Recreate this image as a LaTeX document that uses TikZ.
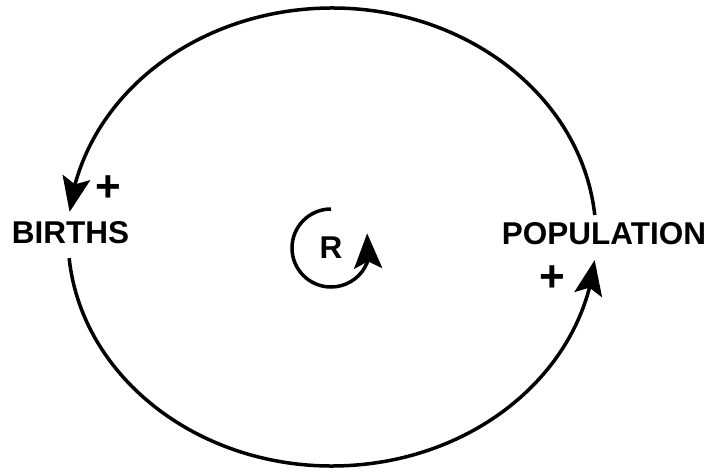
\documentclass[tikz,border=0pt]{standalone}
\usepackage{fontspec}
\setmainfont{Liberation Sans}
\usetikzlibrary{arrows.meta,bending}

\begin{document}
\begin{tikzpicture}[x=1pt,y=1pt,>={Stealth[length=35pt,width=28pt,inset=7pt]},
  lbl/.style={font=\fontsize{31.5}{38}\selectfont\bfseries,inner sep=0pt},
  sgn/.style={font=\fontsize{44}{50}\selectfont\bfseries,inner sep=0pt},
  link/.style={line width=3.5pt,->}]
\useasboundingbox (0,0) rectangle (706,472);
\coordinate (C) at (332,235);
\node[lbl] (births) at (70.5,239.5) {BIRTHS};
\node[lbl] (population) at (604,238.5) {POPULATION};
\node[sgn] (bsign) at (108,283) {+};
\node[sgn] (psign) at (552,193) {+};
\node[lbl] (R) at (331,224) {R};
% ends of the two links on the loop
\coordinate (pop-top) at ([shift={(5.5:264 and 229)}]C);
\coordinate (births-bot) at ([shift={(185.3:264 and 229)}]C);
\draw[link] (pop-top) arc[start angle=5.5, end angle=173.7, x radius=264, y radius=229];
\draw[link] (births-bot) arc[start angle=185.3, end angle=354.2, x radius=264, y radius=229];
\draw[link] ([shift={(90:39)}]R.center) arc[start angle=90, end angle=382, radius=39];
\end{tikzpicture}
\end{document}
